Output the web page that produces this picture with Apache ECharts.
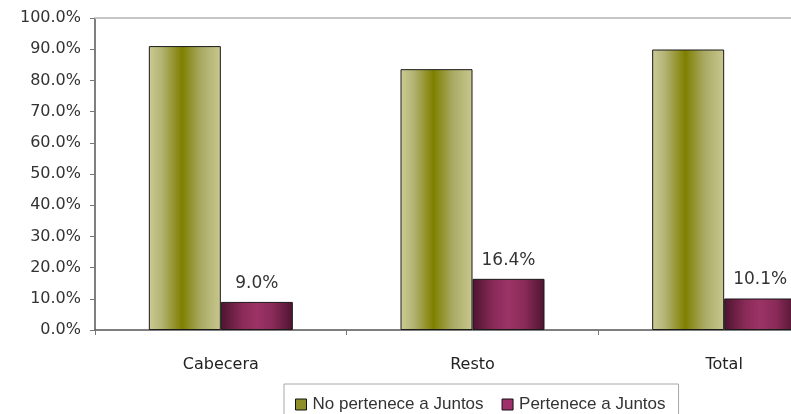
<!DOCTYPE html>
<html>
<head>
<meta charset="utf-8">
<script src="https://cdn.jsdelivr.net/npm/echarts@6/dist/echarts.min.js"></script>
<style>
  html, body { margin: 0; padding: 0; background: #ffffff; overflow: hidden; }
  #wrap { width: 791px; height: 414px; overflow: hidden; }
  /* the plot runs past the right edge of the visible frame */
  #chart { width: 851px; height: 414px; }
</style>
</head>
<body>
<div id="wrap"><div id="chart"></div></div>
<script>
// Categories and percentage values per group
const categories = ['Cabecera', 'Resto', 'Total'];
const noPertenece = [91.0, 83.6, 89.9];
const pertenece = [9.0, 16.4, 10.1];
const seriesNames = ['No pertenece a Juntos', 'Pertenece a Juntos'];

const chart = echarts.init(document.getElementById('chart'), null, { renderer: 'canvas' });

// Cylinder-like shading across each bar
const oliveFill = new echarts.graphic.LinearGradient(0, 0, 1, 0, [
  { offset: 0, color: '#cbcb95' },
  { offset: 0.18, color: '#b3b374' },
  { offset: 0.46, color: '#7f7f00' },
  { offset: 0.72, color: '#a9a964' },
  { offset: 1, color: '#c8c890' }
]);
const maroonFill = new echarts.graphic.LinearGradient(0, 0, 1, 0, [
  { offset: 0, color: '#4e1430' },
  { offset: 0.3, color: '#8a2b58' },
  { offset: 0.5, color: '#9c3366' },
  { offset: 0.72, color: '#8a2b58' },
  { offset: 1, color: '#4e1430' }
]);

const pct = v => v.toFixed(1) + '%';

chart.setOption({
  animation: false,
  backgroundColor: '#ffffff',
  textStyle: { fontFamily: 'DejaVu Sans' },
  grid: { left: 95, top: 18, right: 1, height: 312, containLabel: false },
  legend: {
    left: 284,
    top: 384,
    padding: [12, 13, 12, 11],
    itemGap: 18,
    itemWidth: 11,
    itemHeight: 11,
    icon: 'rect',
    borderColor: '#a8a8a8',
    borderWidth: 1,
    textStyle: { fontFamily: 'Liberation Sans', fontSize: 17, color: '#333', padding: [0, 0, 0, 1] },
    data: [
      { name: seriesNames[0], itemStyle: { color: '#8f8f2a', borderColor: '#111', borderWidth: 1 } },
      { name: seriesNames[1], itemStyle: { color: '#a0306c', borderColor: '#111', borderWidth: 1 } }
    ]
  },
  xAxis: [
    {
      type: 'category',
      data: categories,
      position: 'bottom',
      axisLine: { lineStyle: { color: '#555', width: 1.5 } },
      axisTick: { show: true, length: 5, interval: 0, lineStyle: { color: '#777' } },
      axisLabel: { margin: 27, fontSize: 16, color: '#222', fontFamily: 'DejaVu Sans' }
    },
    {
      type: 'category',
      data: categories,
      position: 'top',
      axisLine: { lineStyle: { color: '#c6c6c6', width: 2 } },
      axisTick: { show: false },
      axisLabel: { show: false }
    }
  ],
  yAxis: {
    type: 'value',
    min: 0,
    max: 100,
    interval: 10,
    axisLine: { show: true, lineStyle: { color: '#555', width: 1.5 } },
    axisTick: { show: true, length: 5, lineStyle: { color: '#777' } },
    splitLine: { show: false },
    axisLabel: {
      margin: 14,
      fontSize: 16,
      color: '#333',
      fontFamily: 'DejaVu Sans',
      formatter: v => pct(v)
    }
  },
  series: [
    {
      name: seriesNames[0],
      type: 'bar',
      data: noPertenece,
      barWidth: 72,
      barGap: '0%',
      itemStyle: { color: oliveFill, borderColor: '#1a1a1a', borderWidth: 1 }
    },
    {
      name: seriesNames[1],
      type: 'bar',
      data: pertenece,
      barWidth: 72,
      barGap: '0%',
      itemStyle: { color: maroonFill, borderColor: '#1a1a1a', borderWidth: 1 },
      label: {
        show: true,
        position: 'top',
        distance: 10,
        fontSize: 17,
        color: '#333',
        fontFamily: 'DejaVu Sans',
        formatter: p => pct(p.value)
      }
    }
  ]
});
</script>
</body>
</html>
